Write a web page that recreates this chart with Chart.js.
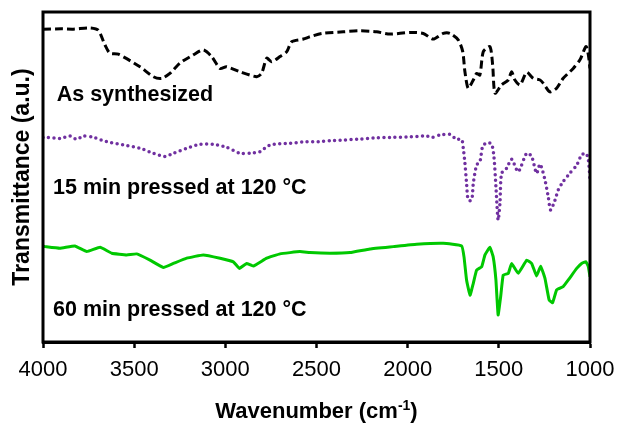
<!DOCTYPE html>
<html>
<head>
<meta charset="utf-8">
<script src="https://cdn.jsdelivr.net/npm/chart.js@4/dist/chart.umd.min.js"></script>
<style>
  html, body { margin: 0; padding: 0; background: #fff; overflow: hidden; }
  #wrap { width: 619px; height: 425px; position: relative; }
  canvas { display: block; }
</style>
</head>
<body>
<div id="wrap"><canvas id="myChart"></canvas></div>
<script>
// tick labels on the wavenumber axis
var xTicks = [4000, 3500, 3000, 2500, 2000, 1500, 1000]

// As synthesized (dashed black)
var asWn = [4000, 3900, 3834, 3742, 3697, 3660, 3633, 3587, 3468, 3395, 3349, 3304, 3249, 3176, 3121, 3075, 3029, 2993, 2920, 2828, 2801, 2773, 2746, 2700, 2663, 2636, 2572, 2536, 2470, 2353, 2262, 2170, 2097, 1987, 1914, 1860, 1805, 1768, 1722, 1698, 1686, 1668, 1640, 1622, 1604, 1585, 1549, 1534, 1521, 1485, 1448, 1430, 1412, 1384, 1347, 1311, 1274, 1256, 1220, 1183, 1147, 1092, 1055, 1022, 1009, 1000]
var asT = [94.8, 94.9, 94.8, 95.2, 94.5, 90.0, 87.5, 87.2, 83.4, 80.4, 79.9, 81.4, 84.5, 87.0, 88.5, 86.5, 82.9, 83.4, 81.9, 80.4, 81.4, 86.0, 84.9, 86.5, 88.0, 91.0, 91.8, 92.5, 93.5, 94.0, 94.3, 94.0, 93.3, 93.8, 93.5, 91.8, 93.5, 93.5, 91.5, 88.0, 81.9, 76.9, 79.4, 81.4, 80.9, 88.0, 89.5, 84.0, 75.4, 77.9, 79.4, 81.9, 79.4, 77.9, 81.7, 79.9, 79.4, 78.4, 75.8, 76.9, 79.9, 82.9, 85.5, 89.5, 87.0, 82.9]

// 15 min pressed (dotted purple)
var p15Wn = [4000, 3980, 3907, 3852, 3815, 3779, 3724, 3651, 3560, 3468, 3395, 3331, 3285, 3212, 3139, 3066, 2993, 2920, 2865, 2810, 2755, 2645, 2554, 2490, 2426, 2353, 2262, 2170, 2079, 1987, 1896, 1868, 1823, 1768, 1732, 1704, 1695, 1686, 1677, 1668, 1649, 1640, 1622, 1604, 1589, 1567, 1540, 1527, 1516, 1504, 1494, 1485, 1458, 1430, 1394, 1347, 1320, 1293, 1274, 1247, 1229, 1216, 1192, 1174, 1147, 1119, 1073, 1046, 1022, 1009, 1000]
var p15T = [62.0, 62.0, 61.7, 62.4, 61.4, 62.4, 62.0, 60.7, 59.7, 58.7, 57.2, 56.2, 57.2, 58.7, 59.9, 59.9, 59.0, 57.2, 57.2, 57.7, 59.7, 60.2, 60.7, 60.7, 61.0, 61.2, 61.5, 61.9, 62.0, 62.2, 62.4, 62.0, 62.7, 62.9, 61.4, 61.4, 58.7, 54.2, 48.1, 43.0, 43.0, 48.1, 53.6, 54.6, 59.2, 60.4, 60.0, 56.2, 47.1, 37.0, 42.0, 51.1, 52.6, 55.4, 51.6, 57.2, 56.2, 51.1, 53.9, 49.1, 44.0, 40.0, 43.0, 46.1, 48.6, 50.6, 53.6, 56.7, 57.2, 55.2, 49.1]

// 60 min pressed (solid green)
var p60Wn = [4000, 3989, 3907, 3825, 3760, 3687, 3623, 3541, 3486, 3413, 3340, 3285, 3212, 3121, 3029, 2956, 2923, 2883, 2847, 2773, 2700, 2591, 2536, 2426, 2316, 2207, 2079, 1951, 1805, 1704, 1691, 1677, 1658, 1640, 1622, 1594, 1576, 1549, 1531, 1516, 1504, 1490, 1476, 1448, 1430, 1394, 1347, 1320, 1293, 1271, 1247, 1224, 1205, 1183, 1147, 1119, 1073, 1046, 1022, 1009, 1000]
var p60T = [29.0, 28.9, 28.4, 29.1, 27.4, 28.7, 26.9, 26.4, 26.7, 24.8, 22.6, 23.8, 25.4, 26.4, 25.4, 24.3, 22.3, 23.8, 23.0, 25.4, 26.7, 27.4, 27.1, 26.9, 27.1, 28.2, 28.9, 29.6, 29.9, 29.1, 25.8, 18.8, 14.2, 17.8, 21.8, 22.8, 26.4, 28.7, 25.8, 18.8, 8.2, 13.7, 20.3, 20.8, 23.8, 20.8, 24.8, 23.8, 20.0, 23.0, 19.3, 12.7, 11.9, 15.8, 16.8, 18.8, 22.3, 23.8, 24.3, 22.8, 19.8]

var seriesNames = ['As synthesized', '15 min pressed at 120 °C', '60 min pressed at 120 °C']
// where each series name is written (wavenumber, transmittance of the baseline)
var nameAt = [[3925, 73.0], [3945, 45.0], [3945, 8.0]]

var FONT = '"Liberation Sans", Arial, sans-serif'

function toPts(xs, ys) {
    return xs.map(function (x, i) { return { x: x, y: ys[i] } })
}

var decor = {
    id: 'decor',
    afterDraw: function (chart) {
        var c = chart.ctx
        var a = chart.chartArea
        var xs = chart.scales.x
        var ys = chart.scales.y
        c.save()
        // frame
        c.strokeStyle = '#000'
        c.lineWidth = 3
        c.strokeRect(a.left, a.top, a.right - a.left, a.bottom - a.top)

        // series names
        c.fillStyle = '#000'
        c.font = 'bold 21.5px ' + FONT
        c.textAlign = 'left'
        c.textBaseline = 'alphabetic'
        seriesNames.forEach(function (n, i) {
            c.fillText(n, xs.getPixelForValue(nameAt[i][0]), ys.getPixelForValue(nameAt[i][1]))
        })

        // x title with superscript
        var t1 = 'Wavenumber (cm', sup = '-1', t2 = ')'
        c.font = 'bold 22px ' + FONT
        var w1 = c.measureText(t1).width, w3 = c.measureText(t2).width
        c.font = 'bold 14px ' + FONT
        var w2 = c.measureText(sup).width
        var x0 = (a.left + a.right) / 2 - (w1 + w2 + w3) / 2
        var by = 418
        c.font = 'bold 22px ' + FONT
        c.fillText(t1, x0, by)
        c.font = 'bold 14px ' + FONT
        c.fillText(sup, x0 + w1, by - 8)
        c.font = 'bold 22px ' + FONT
        c.fillText(t2, x0 + w1 + w2, by)

        // y title
        c.translate(29, (a.top + a.bottom) / 2)
        c.rotate(-Math.PI / 2)
        c.textAlign = 'center'
        c.font = 'bold 23px ' + FONT
        c.fillText('Transmittance (a.u.)', 0, 0)
        c.restore()
    }
}

var ctx = document.getElementById('myChart').getContext('2d')
var myChart = new Chart(ctx, {
    type: 'line',
    data: {
        datasets: [{
            label: seriesNames[0],
            data: toPts(asWn, asT),
            borderColor: '#000000',
            borderWidth: 3,
            borderDash: [8, 4],
            tension: 0.25,
            pointRadius: 0
        }, {
            label: seriesNames[1],
            data: toPts(p15Wn, p15T),
            borderColor: '#7030a0',
            borderWidth: 3.5,
            borderDash: [0, 5.5],
            borderCapStyle: 'round',
            tension: 0.25,
            pointRadius: 0
        }, {
            label: seriesNames[2],
            data: toPts(p60Wn, p60T),
            borderColor: '#00c800',
            borderWidth: 3,
            tension: 0.1,
            pointRadius: 0
        }]
    },
    options: {
        responsive: true,
        maintainAspectRatio: false,
        animation: false,
        layout: { padding: { left: 43, right: 29, top: 12, bottom: 0 } },
        plugins: {
            legend: { display: false },
            tooltip: { enabled: false }
        },
        scales: {
            x: {
                type: 'linear',
                reverse: true,
                min: 1000,
                max: 4000,
                afterBuildTicks: function (s) {
                    s.ticks = xTicks.map(function (v) { return { value: v } })
                },
                afterFit: function (s) {
                    s.height = 83
                    s.paddingLeft = 0
                    s.paddingRight = 0
                },
                ticks: {
                    color: '#000',
                    font: { family: FONT, size: 22 },
                    padding: 9,
                    maxRotation: 0,
                    callback: function (v) { return String(v) }
                },
                grid: {
                    drawOnChartArea: false,
                    tickLength: 6,
                    tickColor: '#000',
                    tickWidth: 2.5
                },
                border: { color: '#000', width: 3 }
            },
            y: {
                display: false,
                min: 0,
                max: 100
            }
        }
    },
    plugins: [decor]
})
</script>
</body>
</html>
